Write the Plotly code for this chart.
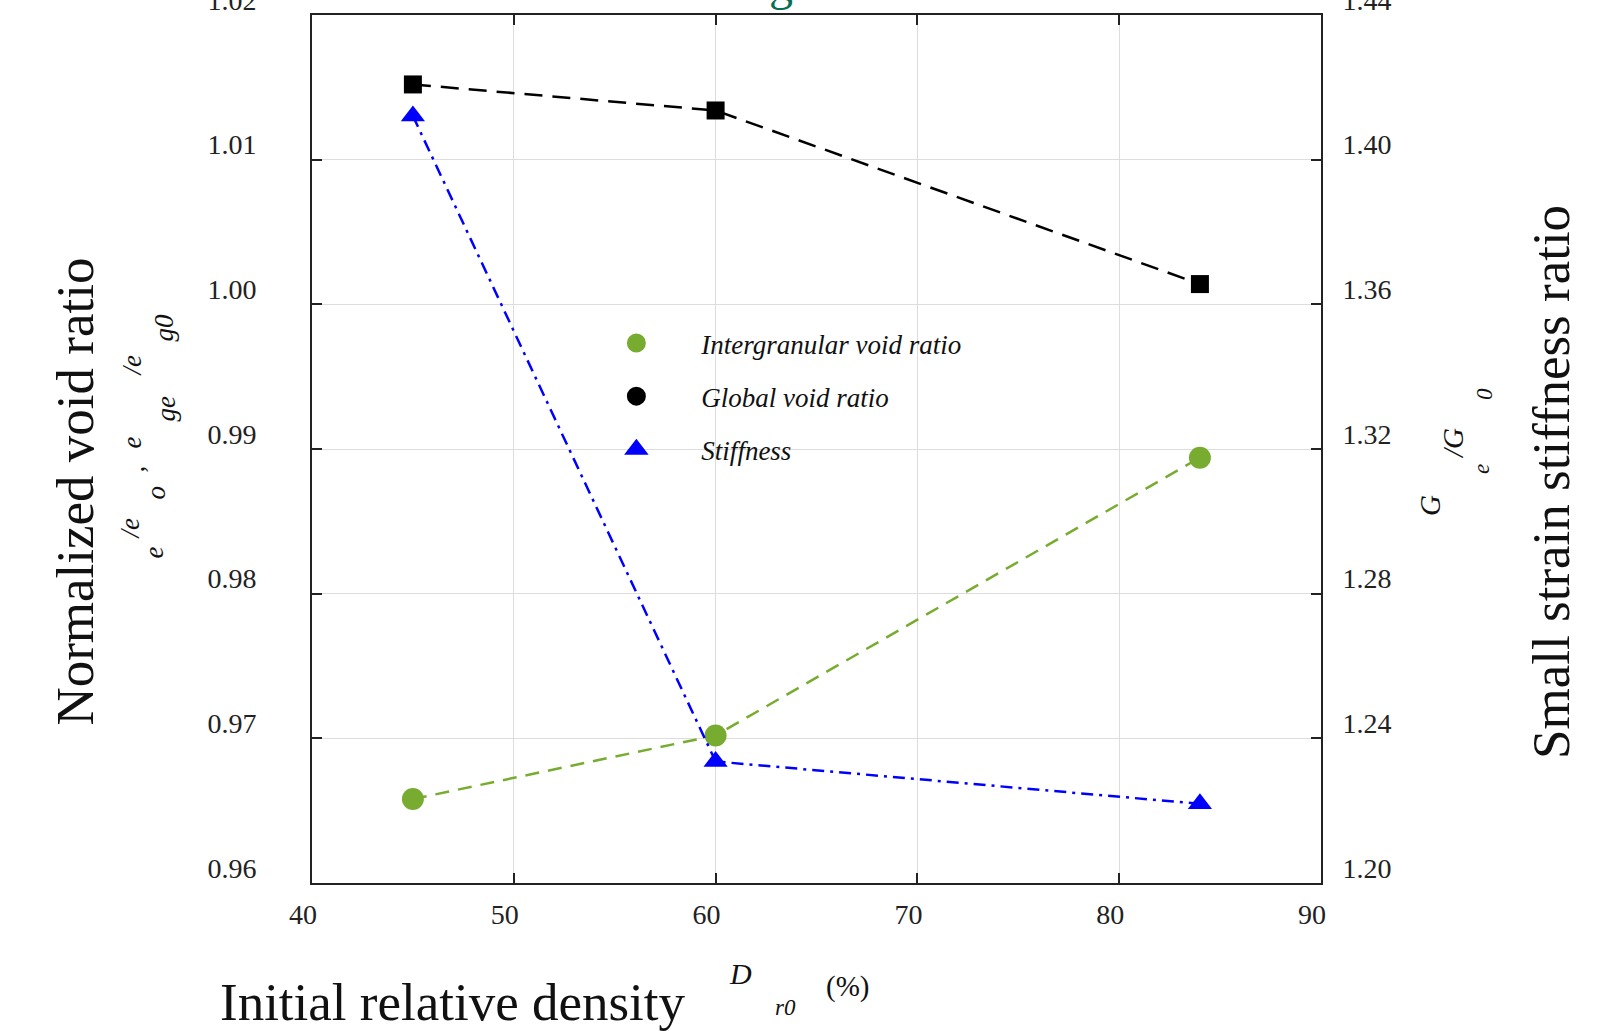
import plotly.graph_objects as go

# ---------------- data ----------------
dr0 = [45.0, 60.0, 84.0]
intergranular = [0.9658, 0.9702, 0.9894]
global_void = [1.0152, 1.0134, 1.0014]
stiffness = [1.4121, 1.2336, 1.2219]

x_ticks = [40, 50, 60, 70, 80, 90]
y_ticks = [0.96, 0.97, 0.98, 0.99, 1.00, 1.01, 1.02]
y2_ticks = [1.20, 1.24, 1.28, 1.32, 1.36, 1.40, 1.44]

legend_names = ["Intergranular void ratio", "Global void ratio", "Stiffness"]

GREEN = "#77ac30"
BLUE = "#0000ff"
BLACK = "#000000"

W, H = 1616, 1031
L, R, T, B = 311.5, 1321.0, 15.0, 883.0

def px(xp):
    return (xp - L) / (R - L)

def py(yp):
    return (B - yp) / (B - T)

SERIF = "Liberation Serif, Times New Roman, serif"

fig = go.Figure()

fig.add_trace(go.Scatter(
    x=dr0, y=intergranular, mode="lines+markers",
    line=dict(color=GREEN, width=2.5, dash="14px,9px"),
    marker=dict(symbol="circle", size=22, color=GREEN),
    showlegend=False, cliponaxis=False))
fig.add_trace(go.Scatter(
    x=dr0, y=global_void, mode="lines+markers",
    line=dict(color=BLACK, width=2.5, dash="18px,10px"),
    marker=dict(symbol="square", size=18, color=BLACK),
    showlegend=False, cliponaxis=False))
fig.add_trace(go.Scatter(
    x=dr0, y=stiffness, mode="lines+markers", yaxis="y2",
    line=dict(color=BLUE, width=2.5, dash="12px,6px,3px,6px"),
    marker=dict(symbol="triangle-up", size=21, color=BLUE),
    showlegend=False, cliponaxis=False))

# legend-only entries (markers only, as in the reference legend)
for name, sym, col in zip(legend_names, ["circle", "circle", "triangle-up"], [GREEN, BLACK, BLUE]):
    fig.add_trace(go.Scatter(
        x=[None], y=[None], mode="markers", name=name, legendgroup=name,
        marker=dict(symbol=sym, size=16, color=col, line=dict(color=col, width=3))))

axis_common = dict(
    showline=True, linecolor="#222222", linewidth=1.8,
    ticks="inside", ticklen=10, tickwidth=1.5, tickcolor="#222222",
    tickfont=dict(family=SERIF, size=28, color="#222222"),
    zeroline=False, ticklabeloverflow="allow", automargin=False,
)

fig.update_layout(
    width=W, height=H,
    margin=dict(l=L, r=W - R, t=T, b=H - B, autoexpand=False),
    paper_bgcolor="white", plot_bgcolor="white",
    showlegend=True,
    legend=dict(
        x=px(571), y=py(319), xanchor="left", yanchor="top",
        bgcolor="rgba(0,0,0,0)", borderwidth=0,
        font=dict(family=SERIF, size=27, color="#111111", style="italic"),
        itemwidth=120, tracegroupgap=15,
    ),
    xaxis=dict(
        range=[40, 90], tickvals=x_ticks, ticktext=[str(v) for v in x_ticks],
        showgrid=True, gridcolor="#dddddd", gridwidth=1,
        mirror="ticks", ticklabelstandoff=5, ticklabelshift=-9,
        **axis_common),
    yaxis=dict(
        range=[0.96, 1.02], tickvals=y_ticks, ticktext=[f"{v:.2f}" for v in y_ticks],
        showgrid=True, gridcolor="#dddddd", gridwidth=1,
        mirror="ticks", ticklabelstandoff=48, ticklabelshift=-15,
        **axis_common),
    yaxis2=dict(
        range=[1.20, 1.44], tickvals=y2_ticks, ticktext=[f"{v:.2f}" for v in y2_ticks],
        overlaying="y", side="right", showgrid=False,
        ticklabelstandoff=14, ticklabelshift=-15,
        **axis_common),
)

ann = []

def add(text, x, y, size, rot=0, italic=False, color="#111111", xanchor="center", yanchor="middle"):
    ann.append(dict(
        text=text, x=px(x), y=py(y), xref="paper", yref="paper",
        showarrow=False, textangle=rot, xanchor=xanchor, yanchor=yanchor,
        font=dict(family=SERIF, size=size, color=color, style="italic" if italic else "normal")))

# left axis title
add("Normalized void ratio", 74, 492, 53, rot=-90)
for t, x, y in [("/e", 129, 529), ("e", 153, 553), ("o", 155, 493), (",", 134, 469),
                ("e", 131, 443), ("ge", 165, 409), ("/e", 131, 366), ("g0", 163, 328)]:
    add(t, x, y, 27, rot=-90, italic=True)

# right axis title
add("Small strain stiffness ratio", 1551, 482, 53, rot=-90)
for t, x, y, s in [("G", 1430, 505, 29), ("/G", 1453, 443, 29), ("e", 1481, 469, 23), ("0", 1484, 394, 23)]:
    add(t, x, y, s, rot=-90, italic=True)

# x axis title
add("Initial relative density", 453, 1002, 53)
add("D", 740, 974, 30, italic=True)
add("r0", 785, 1008, 23, italic=True)
add("(%)", 847, 986, 29)

# clipped title fragment at the very top
add("g", 781, 12, 48, color="#0a6e50", yanchor="bottom")

fig.update_layout(annotations=ann)

fig.write_html("out.html")
